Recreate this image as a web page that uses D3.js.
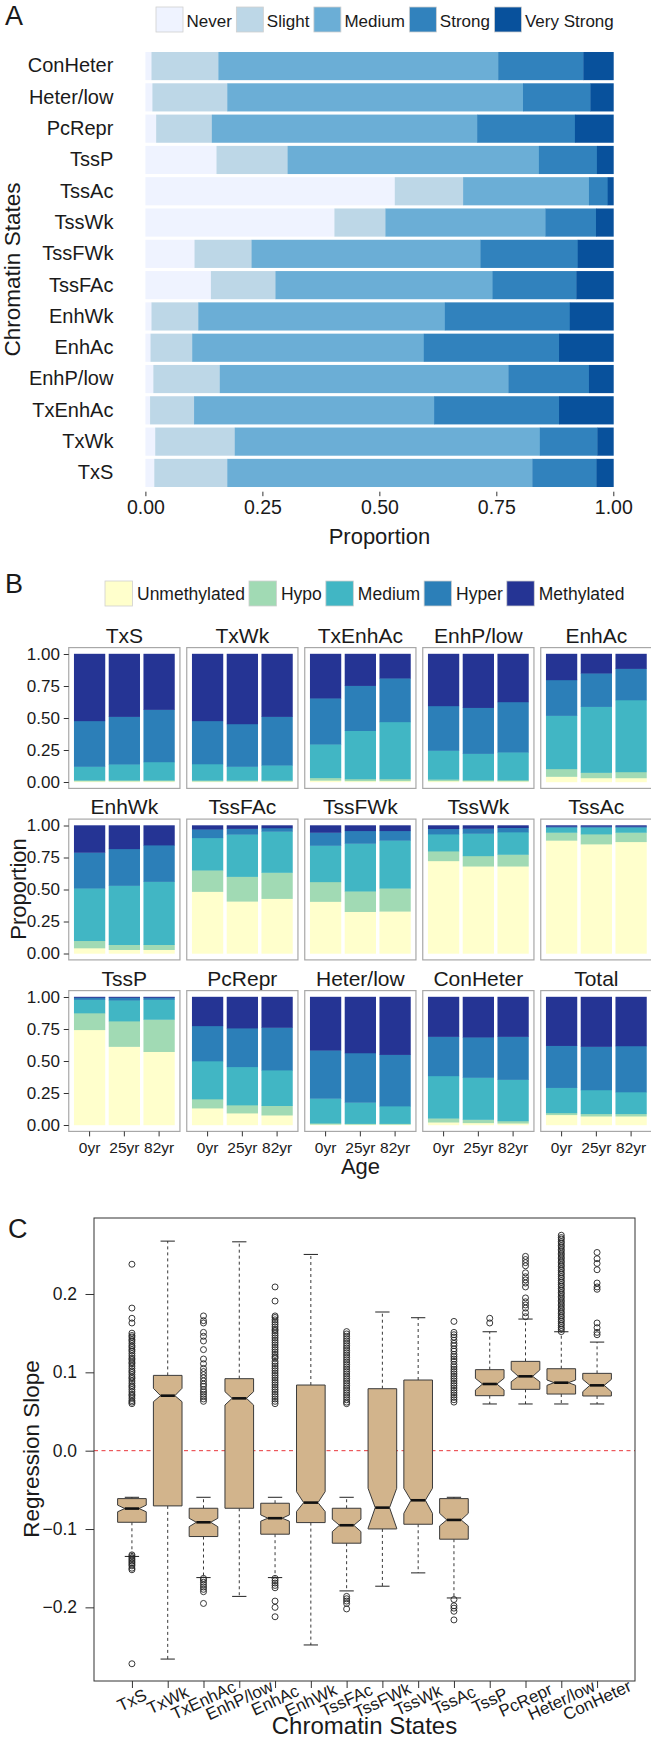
<!DOCTYPE html>
<html><head><meta charset="utf-8">
<script src="https://cdn.jsdelivr.net/npm/d3@7"></script>
<style>
body{margin:0;background:#fff;}
svg{display:block;}
text{font-family:"Liberation Sans",Arial,Helvetica,sans-serif;fill:#1a1a1a;}
</style></head><body>
<svg id="chart" width="651" height="1740"></svg>
<script>
// ================= Panel A data =================
const statesA = ["ConHeter","Heter/low","PcRepr","TssP","TssAc","TssWk","TssFWk","TssFAc","EnhWk","EnhAc","EnhP/low","TxEnhAc","TxWk","TxS"];
const levelsA = ["Never","Slight","Medium","Strong","Very Strong"];
const colorsA = ["#eff3ff","#bdd7e7","#6baed6","#3182bd","#08519c"];
const never      = [0.013,0.015,0.023,0.152,0.533,0.404,0.105,0.140,0.013,0.011,0.017,0.010,0.021,0.019];
const slight     = [0.143,0.160,0.119,0.152,0.146,0.109,0.122,0.138,0.100,0.089,0.142,0.094,0.170,0.156];
const mediumA    = [0.598,0.632,0.567,0.537,0.269,0.342,0.489,0.464,0.527,0.495,0.617,0.513,0.652,0.652];
const strong     = [0.182,0.144,0.209,0.124,0.040,0.108,0.208,0.179,0.267,0.289,0.172,0.267,0.123,0.137];
const veryStrong = [0.064,0.049,0.082,0.035,0.012,0.037,0.076,0.079,0.093,0.116,0.052,0.116,0.034,0.036];
const xTicksA = [0,0.25,0.5,0.75,1];

// ================= Panel B data =================
const facetsB = ["TxS","TxWk","TxEnhAc","EnhP/low","EnhAc","EnhWk","TssFAc","TssFWk","TssWk","TssAc","TssP","PcRepr","Heter/low","ConHeter","Total"];
const ages = ["0yr","25yr","82yr"];
const levelsB = ["Unmethylated","Hypo","Medium","Hyper","Methylated"];
const colorsB = ["#ffffcc","#a1dab4","#41b6c4","#2c7fb8","#253494"];
const unmethylated = [[0.006,0.006,0.006],[0.005,0.005,0.005],[0.012,0.008,0.008],[0.008,0.006,0.006],[0.042,0.031,0.031],
  [0.042,0.029,0.029],[0.483,0.407,0.428],[0.405,0.326,0.329],[0.723,0.681,0.681],[0.883,0.854,0.872],
  [0.743,0.612,0.572],[0.131,0.092,0.076],[0.005,0.004,0.004],[0.021,0.016,0.013],[0.079,0.068,0.068]];
const hypo = [[0.007,0.007,0.007],[0.007,0.007,0.007],[0.020,0.015,0.015],[0.012,0.008,0.008],[0.060,0.042,0.047],
  [0.057,0.039,0.039],[0.167,0.193,0.204],[0.154,0.160,0.180],[0.076,0.081,0.092],[0.062,0.078,0.073],
  [0.131,0.199,0.252],[0.071,0.063,0.074],[0.008,0.006,0.006],[0.031,0.026,0.018],[0.015,0.019,0.019]];
const mediumB = [[0.107,0.125,0.143],[0.128,0.108,0.118],[0.262,0.377,0.446],[0.225,0.207,0.218],[0.416,0.515,0.562],
  [0.410,0.462,0.493],[0.253,0.330,0.321],[0.284,0.373,0.374],[0.133,0.175,0.175],[0.039,0.052,0.039],
  [0.105,0.163,0.155],[0.297,0.299,0.278],[0.194,0.166,0.137],[0.331,0.328,0.323],[0.197,0.186,0.170]];
const hyper = [[0.357,0.372,0.409],[0.337,0.333,0.380],[0.360,0.352,0.341],[0.349,0.359,0.393],[0.279,0.261,0.245],
  [0.280,0.287,0.285],[0.067,0.045,0.027],[0.102,0.099,0.075],[0.042,0.039,0.034],[0.008,0.008,0.008],
  [0.016,0.021,0.016],[0.275,0.302,0.333],[0.376,0.386,0.402],[0.307,0.315,0.336],[0.328,0.339,0.360]];
const methylated = [[0.523,0.490,0.435],[0.523,0.547,0.490],[0.346,0.248,0.190],[0.406,0.420,0.375],[0.203,0.151,0.115],
  [0.211,0.183,0.154],[0.030,0.025,0.020],[0.055,0.042,0.042],[0.026,0.024,0.018],[0.008,0.008,0.008],
  [0.005,0.005,0.005],[0.226,0.244,0.239],[0.417,0.438,0.451],[0.310,0.315,0.310],[0.381,0.388,0.383]];
const yTicksB = [0,0.25,0.5,0.75,1];

// ================= Panel C data =================
const statesC = ["TxS","TxWk","TxEnhAc","EnhP/low","EnhAc","EnhWk","TssFAc","TssFWk","TssWk","TssAc","TssP","PcRepr","Heter/low","ConHeter"];
const whiskerLow  = [-0.135,-0.266,-0.162,-0.186,-0.162,-0.248,-0.179,-0.173,-0.156,-0.188,0.0596,0.0596,0.0596,0.0596];
const q1          = [-0.0914,-0.0705,-0.1096,-0.0735,-0.1066,-0.0918,-0.1181,-0.0999,-0.0939,-0.1130,0.0702,0.0783,0.0723,0.0698];
const medianC     = [-0.0739,0.0702,-0.0914,0.0668,-0.0862,-0.0663,-0.0952,-0.0727,-0.0633,-0.0884,0.0851,0.0949,0.0868,0.0834];
const q3          = [-0.0612,0.0961,-0.0735,0.0919,-0.0671,0.0838,-0.0735,0.0791,0.0902,-0.0612,0.1034,0.1140,0.1046,0.0987];
const whiskerHigh = [-0.0595,0.2675,-0.0595,0.2666,-0.0595,0.2505,-0.0595,0.1770,0.1697,-0.0595,0.1518,0.1680,0.1518,0.1386];
const notchLow    = [-0.0780,0.0625,-0.0970,0.0583,-0.0900,-0.0777,-0.1033,-0.0990,-0.0800,-0.0960,0.0774,0.0880,0.0834,0.0753];
const notchHigh   = [-0.0695,0.0796,-0.0863,0.0753,-0.0820,-0.0523,-0.0875,-0.0480,-0.0480,-0.0800,0.0923,0.1030,0.0902,0.0910];
const outliersC = [
  [0.238,0.182,0.169,0.163,0.150,0.147,0.145,0.142,0.140,0.137,0.134,0.132,0.129,0.127,0.124,0.121,0.118,0.116,0.113,0.111,0.108,0.105,0.102,0.100,0.097,0.094,0.092,0.089,0.086,0.083,0.081,0.078,0.075,0.072,0.070,0.067,0.064,0.062,0.060,
   -0.133,-0.135,-0.137,-0.139,-0.141,-0.143,-0.145,-0.147,-0.150,-0.152,-0.272],
  [],
  [0.172,0.166,0.163,0.151,0.146,0.140,0.129,0.117,0.111,0.105,0.101,0.097,0.093,0.089,0.085,0.082,0.078,0.075,0.072,0.069,0.066,0.063,
   -0.163,-0.165,-0.168,-0.171,-0.174,-0.177,-0.180,-0.195],
  [],
  [0.209,0.191,0.172,0.170,0.167,0.164,0.161,0.158,0.155,0.153,0.150,0.147,0.144,0.141,0.138,0.135,0.132,0.129,0.126,0.123,0.120,0.118,0.114,0.111,0.108,0.105,0.102,0.099,0.096,0.093,0.090,0.087,0.084,0.081,0.078,0.075,0.072,0.069,0.066,0.063,0.060,
   -0.163,-0.166,-0.169,-0.172,-0.175,-0.192,-0.200,-0.212],
  [],
  [0.152,0.149,0.146,0.143,0.140,0.137,0.134,0.131,0.128,0.125,0.122,0.119,0.116,0.113,0.110,0.107,0.104,0.101,0.098,0.095,0.092,0.089,0.086,0.083,0.080,0.077,0.074,0.071,0.068,0.065,0.062,0.060,
   -0.186,-0.189,-0.192,-0.195,-0.202],
  [],
  [],
  [0.165,0.151,0.148,0.145,0.141,0.137,0.134,0.130,0.127,0.123,0.120,0.117,0.114,0.110,0.107,0.104,0.101,0.098,0.095,0.092,0.089,0.086,0.083,0.080,0.077,0.074,0.071,0.068,0.065,0.062,
   -0.190,-0.198,-0.201,-0.205,-0.216],
  [0.169,0.163],
  [0.248,0.244,0.240,0.236,0.227,0.222,0.218,0.214,0.209,0.195,0.190,0.186,0.182,0.176,0.171],
  [0.275,0.272,0.270,0.267,0.265,0.262,0.260,0.257,0.255,0.252,0.250,0.247,0.245,0.242,0.240,0.237,0.235,0.232,0.230,0.227,0.225,0.222,0.220,0.217,0.215,0.212,0.210,0.207,0.205,0.202,0.200,0.197,0.195,0.192,0.190,0.187,0.185,0.182,0.180,0.177,0.175,0.172,0.170,0.167,0.165,0.162,0.160,0.157,0.155,0.152],
  [0.253,0.245,0.239,0.231,0.214,0.209,0.206,0.163,0.157,0.151,0.148]
];
const yTicksC = [-0.2,-0.1,0,0.1,0.2];

// ================= Drawing =================
const svg = d3.select("#chart");
svg.append("rect").attr("width",651).attr("height",1740).attr("fill","#fff");
const fmt2 = d3.format(".2f");
function styleAxis(g, size){
  g.attr("font-family",null).attr("font-size",null);
  g.selectAll("text").attr("font-size",size).attr("fill","#1a1a1a");
  g.selectAll("line").attr("stroke","#333");
  g.select(".domain").remove();
}
function legend(levels, colors, x0, yBox, bw, bh, fs, gapText, gapItem, baseline){
  let x = x0;
  levels.forEach((lab,i)=>{
    svg.append("rect").attr("x",x).attr("y",yBox).attr("width",bw).attr("height",bh)
      .attr("fill",colors[i]).attr("stroke","#d0d0d0").attr("stroke-width",0.8);
    const t = svg.append("text").attr("x",x+bw+gapText).attr("y",baseline).attr("font-size",fs).text(lab);
    x += bw + gapText + t.node().getComputedTextLength() + gapItem;
  });
}

// ---------- Panel A ----------
svg.append("text").attr("x",5).attr("y",24.5).attr("font-size",27).text("A");
legend(levelsA, colorsA, 156, 7, 27, 25, 17, 3.5, 4.5, 26.5);

const xA = d3.scaleLinear().domain([0,1]).range([145.4,613.3]);
const yA = d3.scaleBand().domain(statesA).range([47.3,491.7]).paddingInner(0.1).paddingOuter(0.15);
const tableA = statesA.map((s,i)=>({state:s,"Never":never[i],"Slight":slight[i],"Medium":mediumA[i],"Strong":strong[i],"Very Strong":veryStrong[i]}));
const stackA = d3.stack().keys(levelsA)(tableA);
svg.append("g").selectAll("g").data(stackA).join("g").attr("fill",(d,i)=>colorsA[i])
  .selectAll("rect").data(d=>d).join("rect")
  .attr("x",d=>xA(d[0])).attr("width",d=>Math.max(0,xA(Math.min(1,d[1]))-xA(d[0]))+0.4)
  .attr("y",d=>yA(d.data.state)).attr("height",yA.bandwidth());

const axA = svg.append("g").attr("transform","translate(0,491.7)")
  .call(d3.axisBottom(xA).tickValues(xTicksA).tickFormat(fmt2).tickSize(4.5).tickPadding(4));
styleAxis(axA, 19.5);
const ayA = svg.append("g").attr("transform","translate(145.4,0)")
  .call(d3.axisLeft(yA).tickSize(0).tickPadding(32));
styleAxis(ayA, 20);
ayA.selectAll("line").remove();
svg.append("text").attr("x",379.4).attr("y",543.5).attr("text-anchor","middle").attr("font-size",22).text("Proportion");
svg.append("text").attr("transform","translate(19.5,269.5) rotate(-90)").attr("text-anchor","middle").attr("font-size",22.5).text("Chromatin States");

// ---------- Panel B ----------
svg.append("text").attr("x",5).attr("y",593).attr("font-size",27).text("B");
legend(levelsB, colorsB, 105, 581, 27.5, 25, 17.5, 4.5, 4, 599.5);

const panelW = 111.2, gapB = 6.8, leftB = 68.75, rowPitch = 171.5, top1 = 654, unitH = 128, padY = 6.4;
const xB = d3.scaleBand().domain(ages).range([0,panelW]).paddingInner(0.1).paddingOuter(0.15);
const yB = d3.scaleLinear().domain([0,1]).range([unitH,0]);
facetsB.forEach((f,k)=>{
  const r = Math.floor(k/5), c = k%5;
  const g = svg.append("g").attr("transform",`translate(${leftB + c*(panelW+gapB)},${top1 + r*rowPitch})`);
  const table = ages.map((a,j)=>({age:a,"Unmethylated":unmethylated[k][j],"Hypo":hypo[k][j],"Medium":mediumB[k][j],"Hyper":hyper[k][j],"Methylated":methylated[k][j]}));
  const st = d3.stack().keys(levelsB)(table);
  g.selectAll("g.l").data(st).join("g").attr("class","l").attr("fill",(d,i)=>colorsB[i])
    .selectAll("rect").data(d=>d).join("rect")
    .attr("x",d=>xB(d.data.age)).attr("width",xB.bandwidth())
    .attr("y",d=>yB(Math.min(1,d[1])) - 0.2).attr("height",d=>Math.max(0,yB(d[0])-yB(Math.min(1,d[1])))+0.4);
  g.append("rect").attr("x",0).attr("y",-padY).attr("width",panelW).attr("height",unitH+2*padY)
    .attr("fill","none").attr("stroke","#a8a8a8").attr("stroke-width",1.2);
  g.append("text").attr("x",panelW/2).attr("y",-padY-5).attr("text-anchor","middle").attr("font-size",21).text(f);
  if(c===0){
    const ay = g.append("g").call(d3.axisLeft(yB).tickValues(yTicksB).tickFormat(fmt2).tickSize(5).tickPadding(3.8));
    styleAxis(ay, 17);
  }
  if(r===2){
    const ax = g.append("g").attr("transform",`translate(0,${unitH+padY})`)
      .call(d3.axisBottom(xB).tickSize(5).tickPadding(5.5));
    styleAxis(ax, 15.5);
  }
});
svg.append("text").attr("transform","translate(26,889) rotate(-90)").attr("text-anchor","middle").attr("font-size",22).text("Proportion");
svg.append("text").attr("x",360.5).attr("y",1174).attr("text-anchor","middle").attr("font-size",22).text("Age");

// ---------- Panel C ----------
svg.append("text").attr("x",8).attr("y",1238).attr("font-size",27).text("C");
const xC = d3.scaleLinear().domain([-0.06,15.06]).range([94,635]);
const yC = d3.scaleLinear().domain([-0.294,0.297]).range([1681,1218]);
const gC = svg.append("g");
gC.append("line").attr("x1",94).attr("x2",635).attr("y1",yC(0)).attr("y2",yC(0))
  .attr("stroke","#e8363a").attr("stroke-width",1).attr("stroke-dasharray","4,3.5");
const w = xC(1.4)-xC(1);
statesC.forEach((s,i)=>{
  const x = xC(i+1);
  gC.append("line").attr("x1",x).attr("x2",x).attr("y1",yC(q3[i])).attr("y2",yC(whiskerHigh[i]))
    .attr("stroke","#222").attr("stroke-width",0.9).attr("stroke-dasharray","3,3");
  gC.append("line").attr("x1",x).attr("x2",x).attr("y1",yC(q1[i])).attr("y2",yC(whiskerLow[i]))
    .attr("stroke","#222").attr("stroke-width",0.9).attr("stroke-dasharray","3,3");
  [whiskerHigh[i], whiskerLow[i]].forEach(v=>{
    gC.append("line").attr("x1",x-w*0.5).attr("x2",x+w*0.5).attr("y1",yC(v)).attr("y2",yC(v))
      .attr("stroke","#222").attr("stroke-width",1);
  });
  const pts = [[x-w,q1[i]],[x+w,q1[i]],[x+w,notchLow[i]],[x+w*0.5,medianC[i]],[x+w,notchHigh[i]],[x+w,q3[i]],
               [x-w,q3[i]],[x-w,notchHigh[i]],[x-w*0.5,medianC[i]],[x-w,notchLow[i]]];
  gC.append("polygon").attr("points",pts.map(p=>`${p[0]},${yC(p[1])}`).join(" "))
    .attr("fill","#d2b48c").attr("stroke","#3a3a3a").attr("stroke-width",1);
  gC.append("line").attr("x1",x-w*0.5).attr("x2",x+w*0.5).attr("y1",yC(medianC[i])).attr("y2",yC(medianC[i]))
    .attr("stroke","#111").attr("stroke-width",2.6);
  gC.selectAll(null).data(outliersC[i]).join("circle")
    .attr("cx",x).attr("cy",d=>yC(d)).attr("r",3)
    .attr("fill","none").attr("stroke","#222").attr("stroke-width",0.9);
});
gC.append("rect").attr("x",94).attr("y",1218).attr("width",541).attr("height",463)
  .attr("fill","none").attr("stroke","#333").attr("stroke-width",1);
const ayC = svg.append("g").attr("transform","translate(94,0)")
  .call(d3.axisLeft(yC).tickValues(yTicksC).tickSize(8.5).tickPadding(8.5)
    .tickFormat(d=> (d<0?"\u2212":"") + Math.abs(d).toFixed(1)));
styleAxis(ayC, 17.5);
const axC = svg.append("g").attr("transform","translate(0,1681)")
  .call(d3.axisBottom(xC).tickValues(d3.range(1,statesC.length+1)).tickSize(7).tickFormat(""));
styleAxis(axC, 16);
statesC.forEach((s,i)=>{
  svg.append("text").attr("transform",`translate(${xC(i+1)},1700) rotate(-25)`)
    .attr("text-anchor","middle").attr("dy","0.35em").attr("font-size",17).text(s);
});
svg.append("text").attr("transform","translate(39,1449) rotate(-90)").attr("text-anchor","middle").attr("font-size",22.5).text("Regression Slope");
svg.append("text").attr("x",364.5).attr("y",1734).attr("text-anchor","middle").attr("font-size",24).text("Chromatin States");
</script>
</body></html>
